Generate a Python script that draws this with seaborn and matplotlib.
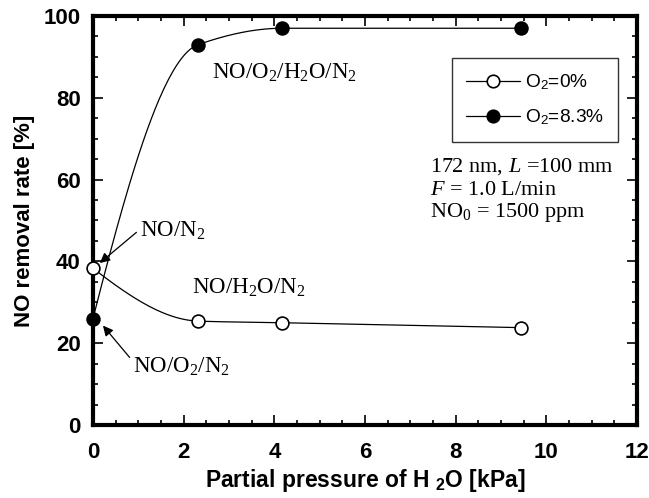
import numpy as np
import pandas as pd
import seaborn as sns
import matplotlib.pyplot as plt
from matplotlib.lines import Line2D

# data
h2o_kpa = [0.0, 2.32, 4.18, 9.45]
no_removal_o2_0 = [38.3, 25.4, 25.0, 23.8]
no_removal_o2_83 = [26.0, 93.0, 97.0, 97.0]
series_labels = ["O$_\\mathsf{2}$=0%", "O$_\\mathsf{2}$=8.3%"]


def pchip(x, y, n=200):
    """Shape preserving smooth line through the data points (drawing only)."""
    x = np.asarray(x, float)
    y = np.asarray(y, float)
    h = np.diff(x)
    delta = np.diff(y) / h
    d = np.zeros_like(y)
    for k in range(1, len(x) - 1):
        if delta[k - 1] * delta[k] > 0:
            w1 = 2 * h[k] + h[k - 1]
            w2 = h[k] + 2 * h[k - 1]
            d[k] = (w1 + w2) / (w1 / delta[k - 1] + w2 / delta[k])
    d0 = ((2 * h[0] + h[1]) * delta[0] - h[0] * delta[1]) / (h[0] + h[1])
    d[0] = d0 if np.sign(d0) == np.sign(delta[0]) else 0.0
    dn = ((2 * h[-1] + h[-2]) * delta[-1] - h[-1] * delta[-2]) / (h[-1] + h[-2])
    d[-1] = dn if np.sign(dn) == np.sign(delta[-1]) else 0.0
    xs = np.linspace(x[0], x[-1], n)
    idx = np.clip(np.searchsorted(x, xs) - 1, 0, len(x) - 2)
    t = (xs - x[idx]) / h[idx]
    h00 = 2 * t**3 - 3 * t**2 + 1
    h10 = t**3 - 2 * t**2 + t
    h01 = -2 * t**3 + 3 * t**2
    h11 = t**3 - t**2
    ys = h00 * y[idx] + h10 * h[idx] * d[idx] + h01 * y[idx + 1] + h11 * h[idx] * d[idx + 1]
    return xs, ys


sns.set_style("ticks")
plt.rcParams["font.family"] = ["Liberation Sans", "DejaVu Sans"]
plt.rcParams["text.color"] = "black"
plt.rcParams["axes.labelcolor"] = "black"
plt.rcParams["xtick.color"] = "black"
plt.rcParams["ytick.color"] = "black"
plt.rcParams["axes.edgecolor"] = "black"
plt.rcParams["mathtext.fontset"] = "custom"
plt.rcParams["mathtext.rm"] = "Liberation Serif"
plt.rcParams["mathtext.it"] = "Liberation Serif:italic"
plt.rcParams["mathtext.bf"] = "Liberation Sans:bold"
plt.rcParams["mathtext.sf"] = "Liberation Sans"

fig = plt.figure(figsize=(6.49, 4.98), dpi=100)
ax = fig.add_axes([0.1433, 0.1466, 0.8382, 0.8213])

for yvals, face in [(no_removal_o2_0, "white"), (no_removal_o2_83, "black")]:
    xs, ys = pchip(h2o_kpa, yvals)
    sns.lineplot(x=xs, y=ys, ax=ax, color="black", linewidth=0.9, sort=False)
    sns.scatterplot(x=h2o_kpa, y=yvals, ax=ax, s=85, color=face,
                    edgecolor="black", linewidth=1.2, zorder=5, clip_on=False)

ax.set_xlim(0, 12)
ax.set_ylim(0, 100)
ax.set_xticks(np.arange(0, 13, 2))
ax.set_yticks(np.arange(0, 101, 20))
ax.set_xticks(np.arange(0, 12.01, 0.5), minor=True)
ax.set_yticks(np.arange(0, 100.01, 5), minor=True)
ax.tick_params(which="both", direction="in", top=True, right=True, width=1.2,
               labeltop=False, labelright=False)
ax.tick_params(which="major", length=7)
ax.tick_params(which="minor", length=3.5)
ax.tick_params(axis="both", which="major", labelsize=16)
ax.tick_params(axis="x", which="major", pad=12)
ax.tick_params(axis="y", which="major", pad=9)
for lab in ax.get_xticklabels() + ax.get_yticklabels():
    lab.set_fontweight("bold")
for sp in ax.spines.values():
    sp.set_linewidth(3)
    sp.set_visible(True)

ax.set_xlabel("Partial pressure of H $_\\mathbf{2}$O [kPa]", fontsize=16.5,
              fontweight="bold", labelpad=3)
ax.set_ylabel("NO removal rate [%]", fontsize=16, fontweight="bold", labelpad=6)

serif = ["Liberation Serif", "DejaVu Serif"]
fs = 16.5
ax.text(2.63, 86, "NO/O$_2$/H$_2$O/N$_2$", fontsize=fs, family=serif, va="center")
ax.text(2.18, 33.5, "NO/H$_2$O/N$_2$", fontsize=fs, family=serif, va="center")
ax.annotate("NO/N$_2$", xy=(0.15, 39.6), xytext=(1.03, 47.5), fontsize=fs,
            family=serif, va="center",
            arrowprops=dict(arrowstyle="-|>", color="black", lw=0.9,
                            mutation_scale=15, shrinkA=0, shrinkB=0, relpos=(0, 0.55)))
ax.annotate("NO/O$_2$/N$_2$", xy=(0.22, 24.3), xytext=(0.88, 14.2), fontsize=fs,
            family=serif, va="center",
            arrowprops=dict(arrowstyle="-|>", color="black", lw=0.9,
                            mutation_scale=15, shrinkA=0, shrinkB=0, relpos=(0, 0.75)))

# condition block, one line per baseline
cond_lines = ["172 nm, $L$ =100 mm", "$F$ = 1.0 L/min", "NO$_0$ = 1500 ppm"]
for txt, yb in zip(cond_lines, [61.9, 56.3, 50.9]):
    ax.text(7.44, yb, txt, fontsize=16, family=serif, va="baseline")

handles = [
    Line2D([], [], color="black", lw=0.9, marker="o", markersize=9,
           markerfacecolor="white", markeredgecolor="black", markeredgewidth=1.2),
    Line2D([], [], color="black", lw=0.9, marker="o", markersize=9,
           markerfacecolor="black", markeredgecolor="black", markeredgewidth=1.2),
]
leg = ax.legend(handles, series_labels, loc="upper right", bbox_to_anchor=(0.965, 0.897),
                fontsize=13.8, frameon=True, fancybox=False, edgecolor="black",
                handlelength=2.8, borderpad=0.75, labelspacing=0.8, handletextpad=0.25,
                borderaxespad=0)
leg.get_frame().set_linewidth(1.0)

fig.savefig("out.png", dpi=100)
